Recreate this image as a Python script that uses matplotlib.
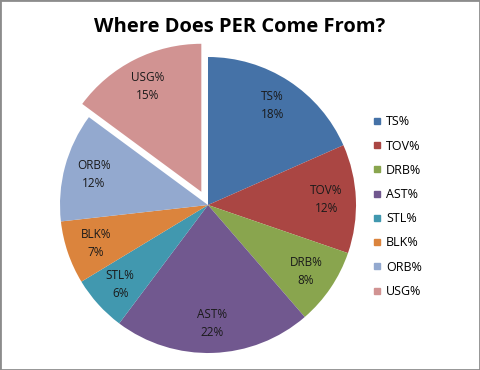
import matplotlib.pyplot as plt
from matplotlib.lines import Line2D
from matplotlib.patches import Rectangle

# shares (percent of PER)
stats = ["TS%", "TOV%", "DRB%", "AST%", "STL%", "BLK%", "ORB%", "USG%"]
shares = [18.4, 11.9, 8.4, 21.6, 6.1, 6.9, 11.9, 14.9]
shown = [18, 12, 8, 22, 6, 7, 12, 15]   # the rounded numbers printed on the slices
colors = ["#4572A7", "#AA4643", "#89A54E", "#71588F",
          "#4198AF", "#DB843D", "#93A9CF", "#D19392"]
explode = [0, 0, 0, 0, 0, 0, 0, 0.1]   # only USG% is pulled out

plt.rcParams['font.family'] = ['Open Sans', 'DejaVu Sans']

fig = plt.figure(figsize=(4.8, 3.7), dpi=100)
W, H = 480, 370
cx, cy, r = 208, 205, 148   # pie centre and radius in pixels
lim = 1.2
ax = fig.add_axes([(cx - lim * r) / W, (H - cy - lim * r) / H,
                   2 * lim * r / W, 2 * lim * r / H])

labels = ["%s\n%d%%" % (s, v) for s, v in zip(stats, shown)]
wedges, texts = ax.pie(shares, colors=colors, explode=explode, startangle=90,
                       counterclock=False, labels=labels, labeldistance=0.8,
                       textprops=dict(fontsize=8.5, color="#1a1a1a", ha="center",
                                      va="center", linespacing=1.5))
ax.set_xlim(-lim, lim)
ax.set_ylim(-lim, lim)
ax.set_aspect("equal")
ax.axis("off")

fig.text(0.5, 1 - 27 / H, "Where Does PER Come From?", ha="center", va="center",
         fontsize=14.5, fontweight="bold")

# legend on the right
handles = [Line2D([], [], marker="s", linestyle="none", markersize=5,
                  markerfacecolor=c, markeredgecolor=c) for c in colors]
fig.legend(handles, stats, loc="upper left", bbox_to_anchor=(366 / W, 1 - 109 / H),
           frameon=False, fontsize=9, labelspacing=0.9, handlelength=0.8,
           handletextpad=0.3, borderpad=0)

# grey frame round the chart
fig.patches.append(Rectangle((0, 0), 1, 1, transform=fig.transFigure, fill=False,
                             edgecolor="#8c8c8c", linewidth=2))

fig.savefig("out.png", dpi=100)
